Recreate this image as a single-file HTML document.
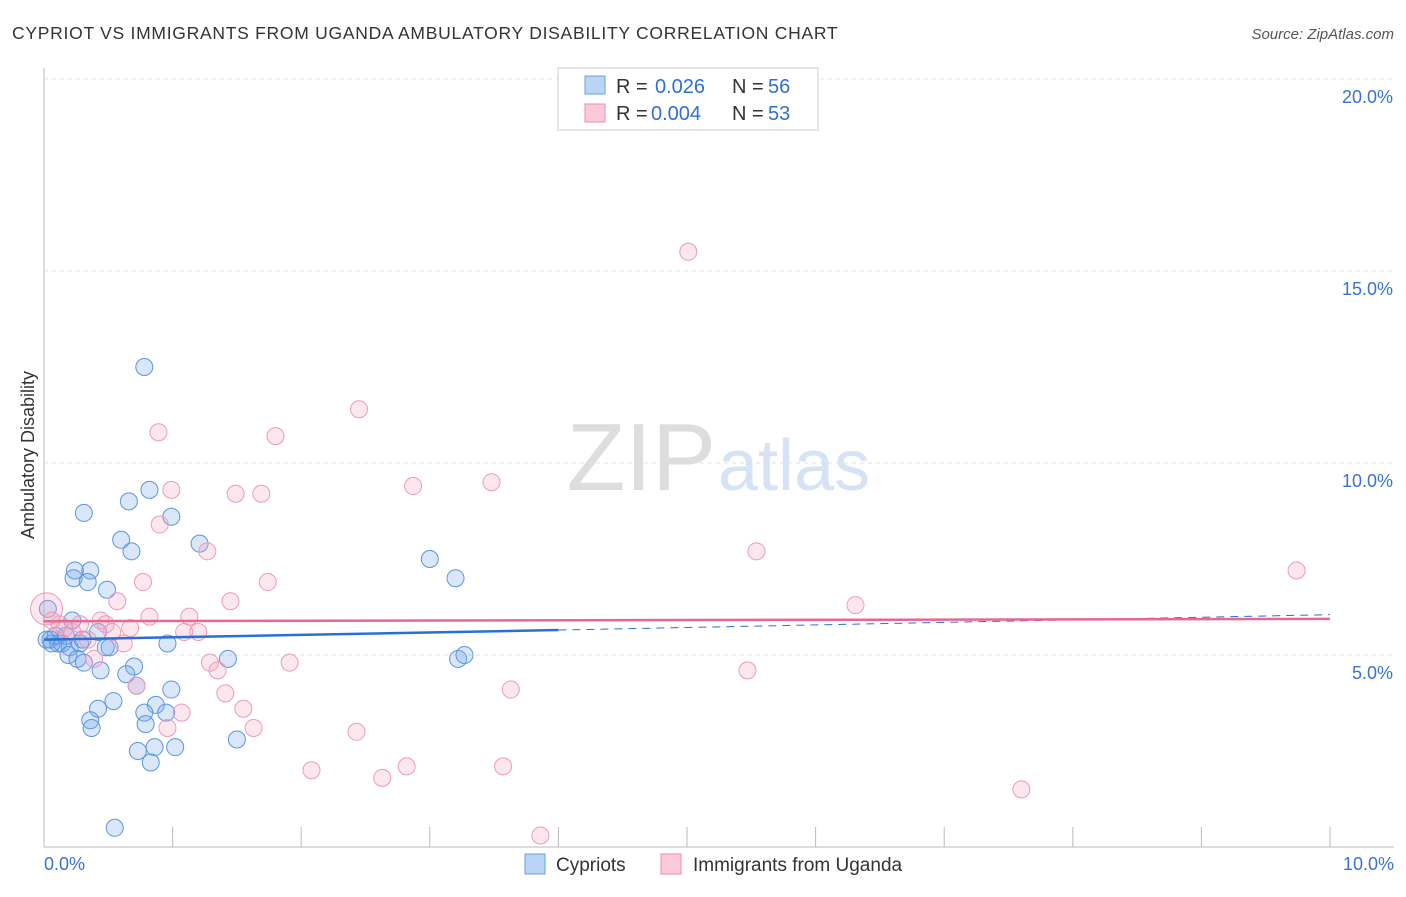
<!DOCTYPE html>
<html><head><meta charset="utf-8"><style>
body{margin:0;background:#fff;font-family:"Liberation Sans",sans-serif;}
svg text{font-family:"Liberation Sans",sans-serif;}
</style></head><body>
<svg id="c" width="1406" height="892">
<text x="12" y="39" font-size="17.5" fill="#333" letter-spacing="0.4" textLength="826">CYPRIOT VS IMMIGRANTS FROM UGANDA AMBULATORY DISABILITY CORRELATION CHART</text>
<text x="1394" y="39" font-size="15" fill="#555" font-style="italic" text-anchor="end">Source: ZipAtlas.com</text>
<text x="716" y="490" font-size="96" fill="#ddd" text-anchor="end" font-family="Liberation Serif">ZIP</text>
<text x="718" y="490" font-size="72" fill="#d5e3f5">atlas</text>
<g id="grid"></g><g id="pts"></g><g id="lines"></g>
<text x="34" y="455" font-size="18" fill="#333" text-anchor="middle" transform="rotate(-90 34 455)">Ambulatory Disability</text>
<g>
<rect x="558" y="68" width="260" height="62" fill="#fff" stroke="#ccc"/>
<rect x="585" y="76" width="20" height="18" fill="#b9d4f5" stroke="#6a9fe0"/>
<rect x="585" y="104" width="20" height="18" fill="#fbc9d8" stroke="#eb8fae"/>
<text x="616" y="93" font-size="20" fill="#333">R = </text>
<text x="655" y="93" font-size="20" fill="#2f6fd6">0.026</text>
<text x="732" y="93" font-size="20" fill="#333">N = </text>
<text x="768" y="93" font-size="20" fill="#2f6fd6">56</text>
<text x="616" y="120" font-size="20" fill="#333">R = </text>
<text x="651" y="120" font-size="20" fill="#2f6fd6">0.004</text>
<text x="732" y="120" font-size="20" fill="#333">N = </text>
<text x="768" y="120" font-size="20" fill="#2f6fd6">53</text>
</g>
<g>
<rect x="525" y="854" width="20" height="20" fill="#b9d4f5" stroke="#6a9fe0"/>
<text x="556" y="871" font-size="19" fill="#333">Cypriots</text>
<rect x="661" y="854" width="20" height="20" fill="#fbc9d8" stroke="#eb8fae"/>
<text x="693" y="871" font-size="19" fill="#333">Immigrants from Uganda</text>
</g>
</svg>
<script>
const yTicks=[5,10,15,20];
const yTickLabels=["5.0%","10.0%","15.0%","20.0%"];
const xTickLabels=["0.0%","10.0%"];
const blueX=[0.78,0.82,0.66,0.31,0.99,0.6,0.68,1.21,3.0,3.2,0.24,0.36,0.23,0.34,0.49,0.03,0.22,0.42,0.05,0.11,0.14,0.2,0.17,0.28,0.19,0.26,0.31,0.48,0.96,1.43,0.7,0.64,0.44,0.72,0.99,0.54,0.42,0.87,0.78,0.95,0.36,0.37,0.79,1.5,0.73,0.86,1.02,0.83,0.55,3.22,3.27,0.06,0.09,0.02,0.3,0.51];
const blueY=[12.5,9.3,9.0,8.7,8.6,8.0,7.7,7.9,7.5,7.0,7.2,7.2,7.0,6.9,6.7,6.2,5.9,5.6,5.4,5.3,5.3,5.2,5.5,5.3,5.0,4.9,4.8,5.2,5.3,4.9,4.7,4.5,4.6,4.2,4.1,3.8,3.6,3.7,3.5,3.5,3.3,3.1,3.2,2.8,2.5,2.6,2.6,2.2,0.5,4.9,5.0,5.3,5.5,5.4,5.4,5.2];
const pinkX=[5.01,2.45,0.89,1.8,0.99,1.49,1.69,2.87,3.48,0.9,1.27,5.54,0.77,1.74,9.74,0.57,1.45,6.31,0.82,1.13,0.44,0.48,0.02,0.06,0.16,0.22,0.34,0.62,0.53,0.67,1.09,1.2,1.29,1.91,1.35,5.47,0.72,1.41,3.63,1.55,1.07,0.96,1.63,2.43,2.08,2.82,2.63,3.57,7.6,3.86,0.12,0.28,0.39];
const pinkY=[15.5,11.4,10.8,10.7,9.3,9.2,9.2,9.4,9.5,8.4,7.7,7.7,6.9,6.9,7.2,6.4,6.4,6.3,6.0,6.0,5.9,5.8,6.2,5.9,5.7,5.6,5.4,5.3,5.6,5.7,5.6,5.6,4.8,4.8,4.6,4.6,4.2,4.0,4.1,3.6,3.5,3.1,3.1,3.0,2.0,2.1,1.8,2.1,1.5,0.3,5.8,5.8,4.9];
const X=v=>44+v*128.6, Y=v=>847-v*38.4;
const NS="http://www.w3.org/2000/svg";
function mk(t,a,p){const e=document.createElementNS(NS,t);for(const k in a)e.setAttribute(k,a[k]);p.appendChild(e);return e;}
const grid=document.getElementById('grid');
let ax=mk('line',{x1:44,y1:68,x2:44,y2:847,stroke:'#bbb'},grid);


let bx=mk('line',{x1:44,y1:847,x2:1394,y2:847,stroke:'#bbb'},grid);


yTicks.forEach((v,i)=>{
 const g=mk('line',{x1:44,y1:Y(v),x2:1394,y2:Y(v),stroke:'#e2e2e2','stroke-dasharray':'4,4'},grid);
 
 
 const t=mk('text',{x:1393,y:Y(v)+24,'font-size':18,fill:'#3a72d0','text-anchor':'end'},grid);
 t.textContent=yTickLabels[i];
 
 
});
for(let i=1;i<=10;i++){const l=mk('line',{x1:X(i),y1:827,x2:X(i),y2:847,stroke:'#bbb'},grid);
 
 }
[[0,'start',44],[10,'end',1394]].forEach((d,i)=>{const t=mk('text',{x:d[2],y:870,'font-size':18,fill:'#3a72d0','text-anchor':d[1]},grid);
 t.textContent=xTickLabels[i];
 
 });
const pts=document.getElementById('pts');
blueX.forEach((x,i)=>{const c=mk('circle',{cx:X(x),cy:Y(blueY[i]),r:8.5,fill:'rgba(120,170,235,0.28)',stroke:'#5b95e0','stroke-width':1},pts);
 
 });
pinkX.forEach((x,i)=>{const c=mk('circle',{cx:X(x),cy:Y(pinkY[i]),r:i==22?16:8.5,fill:'rgba(245,160,190,0.25)',stroke:'#ee9ab7','stroke-width':1},pts);
 
 });
const L=document.getElementById('lines');
let b1=mk('line',{x1:X(0),y1:Y(5.4),x2:X(4),y2:Y(5.65),stroke:'#2a6fd6','stroke-width':2.5},L);


let b2=mk('line',{x1:X(4),y1:Y(5.65),x2:X(10),y2:Y(6.05),stroke:'#2a6fd6','stroke-width':1,'stroke-dasharray':'8,6'},L);


let p1=mk('line',{x1:X(0),y1:Y(5.88),x2:X(10),y2:Y(5.94),stroke:'#e8668f','stroke-width':2.5},L);


</script>
</body></html>
